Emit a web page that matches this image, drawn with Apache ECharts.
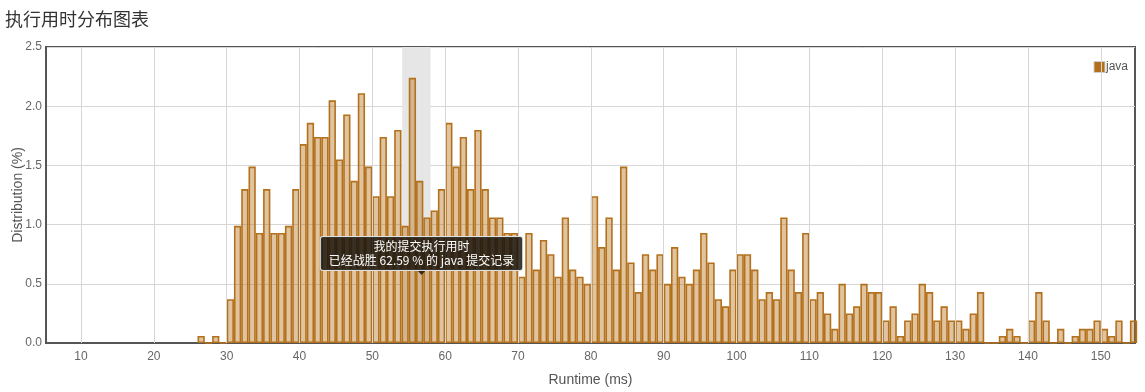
<!DOCTYPE html>
<html>
<head>
<meta charset="utf-8">
<script src="https://cdn.jsdelivr.net/npm/echarts@6/dist/echarts.min.js"></script>
<style>
  html, body { margin: 0; padding: 0; background: #fff; }
  #chart { width: 1145px; height: 392px; }
</style>
</head>
<body>
<div id="chart"></div>
<script>
// ---- data ----
const chartTitle = '执行用时分布图表';
const seriesName = 'java';
const xAxisName = 'Runtime (ms)';
const yAxisName = 'Distribution (%)';
const binWidth = 1;
const binStarts = [
  26, 27, 28, 29, 30, 31, 32, 33, 34, 35, 36, 37, 38, 39, 40,
  41, 42, 43, 44, 45, 46, 47, 48, 49, 50, 51, 52, 53, 54, 55,
  56, 57, 58, 59, 60, 61, 62, 63, 64, 65, 66, 67, 68, 69, 70,
  71, 72, 73, 74, 75, 76, 77, 78, 79, 80, 81, 82, 83, 84, 85,
  86, 87, 88, 89, 90, 91, 92, 93, 94, 95, 96, 97, 98, 99, 100,
  101, 102, 103, 104, 105, 106, 107, 108, 109, 110, 111, 112, 113, 114, 115,
  116, 117, 118, 119, 120, 121, 122, 123, 124, 125, 126, 127, 128, 129, 130,
  131, 132, 133, 134, 135, 136, 137, 138, 139, 140, 141, 142, 143, 144, 145,
  146, 147, 148, 149, 150, 151, 152, 153, 154
];
const distribution = [
  0.06, 0, 0.06, 0, 0.37, 0.99, 1.30, 1.49, 0.93, 1.30, 0.93, 0.93, 0.99, 1.30, 1.68,
  1.86, 1.74, 1.74, 2.05, 1.55, 1.93, 1.37, 2.11, 1.49, 1.24, 1.74, 1.24, 1.80, 0.99, 2.24,
  1.37, 1.06, 1.12, 1.30, 1.86, 1.49, 1.74, 1.30, 1.80, 1.30, 1.06, 1.06, 0.93, 0.93, 0.56,
  0.93, 0.62, 0.87, 0.75, 0.56, 1.06, 0.62, 0.56, 0.50, 1.24, 0.81, 1.06, 0.62, 1.49, 0.68,
  0.43, 0.75, 0.62, 0.75, 0.50, 0.81, 0.56, 0.50, 0.62, 0.93, 0.68, 0.37, 0.31, 0.62, 0.75,
  0.75, 0.62, 0.37, 0.43, 0.37, 1.06, 0.62, 0.43, 0.93, 0.37, 0.43, 0.25, 0.12, 0.50, 0.25,
  0.31, 0.50, 0.43, 0.43, 0.19, 0.31, 0.06, 0.19, 0.25, 0.50, 0.43, 0.19, 0.31, 0.19, 0.19,
  0.12, 0.25, 0.43, 0, 0, 0.06, 0.12, 0.06, 0, 0.19, 0.43, 0.19, 0, 0.12, 0,
  0.06, 0.12, 0.12, 0.19, 0.12, 0.06, 0.19, 0, 0.19
];
const xTicks = [10, 20, 30, 40, 50, 60, 70, 80, 90, 100, 110, 120, 130, 140, 150];
const yTicks = [0, 0.5, 1.0, 1.5, 2.0, 2.5];
const xRange = [5.2, 154.7];
// highlighted band (my submission) and annotation
const highlightBand = [54.1, 58.0];
const myRuntimePoint = [56.75, 0.575];
const tipLines = ['我的提交执行用时', '已经战胜 62.59 % 的 java 提交记录'];

// ---- chart ----
const FONT = '"Liberation Sans", Arial, "Noto Sans CJK SC", sans-serif';
const chart = echarts.init(document.getElementById('chart'), null, { renderer: 'canvas' });
const barData = binStarts.map((b, i) => [b + binWidth / 2, distribution[i]]);

chart.setOption({
  animation: false,
  textStyle: { fontFamily: FONT },
  title: {
    text: chartTitle,
    left: 0,
    top: 5,
    textStyle: { fontFamily: '"Noto Sans CJK SC", sans-serif', fontSize: 18, fontWeight: 'normal', color: '#333' }
  },
  legend: {
    data: [{ name: seriesName, itemStyle: { color: '#b46f1a', borderColor: '#cfcfcf', borderWidth: 1 } }],
    icon: 'rect',
    right: 12,
    top: 56,
    itemWidth: 11,
    itemHeight: 11,
    textStyle: { fontSize: 12, color: '#555', fontFamily: FONT, padding: [0, 0, 0, -4] }
  },
  grid: {
    left: 46, right: 10, top: 47, bottom: 49,
    outerBoundsMode: 'none',
    containLabel: false,
    show: true, borderColor: '#555', borderWidth: 2, backgroundColor: 'transparent'
  },
  xAxis: {
    type: 'value',
    min: xRange[0],
    max: xRange[1],
    name: xAxisName,
    nameLocation: 'middle',
    nameGap: 30,
    nameTextStyle: { fontSize: 14, color: '#555', fontFamily: FONT },
    axisLine: { show: true, lineStyle: { color: '#555', width: 2 } },
    axisTick: { show: false, customValues: xTicks },
    axisLabel: {
      color: '#666', fontSize: 12, margin: 8, fontFamily: FONT,
      customValues: xTicks
    },
    splitLine: { show: false }
  },
  yAxis: {
    type: 'value',
    min: yTicks[0],
    max: yTicks[yTicks.length - 1],
    interval: 0.5,
    name: yAxisName,
    nameLocation: 'middle',
    nameGap: 21,
    nameMoveOverlap: false,
    nameTextStyle: { fontSize: 14, color: '#555', fontFamily: FONT },
    axisLine: { show: true, lineStyle: { color: '#555', width: 2 } },
    axisTick: { show: false },
    axisLabel: { color: '#666', fontSize: 12, margin: 4, fontFamily: FONT, formatter: v => v.toFixed(1) },
    splitLine: { show: true, lineStyle: { color: '#d6d6d6', width: 1 } }
  },
  series: [
    {
      name: 'grid',
      type: 'line',
      data: [],
      z: 1,
      silent: true,
      markArea: {
        silent: true,
        itemStyle: { color: '#e6e6e6' },
        data: [[{ xAxis: highlightBand[0] }, { xAxis: highlightBand[1] }]]
      },
      markLine: {
        silent: true,
        symbol: 'none',
        animation: false,
        label: { show: false },
        lineStyle: { color: '#d6d6d6', width: 1, type: 'solid' },
        data: xTicks.map(v => ({ xAxis: v }))
      }
    },
    {
      name: seriesName,
      type: 'bar',
      data: barData,
      barWidth: 7.3,
      z: 2,
      itemStyle: {
        color: 'rgba(180, 111, 26, 0.42)',
        borderColor: '#b4711c',
        borderWidth: 1.6
      },
      markPoint: {
        silent: true,
        z: 5,
        data: [{
          coord: myRuntimePoint,
          symbol: 'triangle',
          symbolSize: [9, 5],
          symbolRotate: 180,
          symbolOffset: [0, -2.5],
          itemStyle: { color: 'rgba(20, 16, 10, 0.82)' },
          label: {
            show: true,
            position: 'top',
            distance: 0,
            formatter: tipLines.join('\n'),
            color: '#fff',
            fontSize: 12,
            lineHeight: 14,
            align: 'center',
            fontFamily: '"Noto Sans CJK SC", ' + FONT,
            backgroundColor: 'rgba(20, 16, 10, 0.82)',
            borderColor: '#e0e0e0',
            borderWidth: 1,
            borderRadius: 2,
            padding: [3, 8, 2, 8]
          }
        }]
      }
    }
  ]
});
</script>
</body>
</html>
